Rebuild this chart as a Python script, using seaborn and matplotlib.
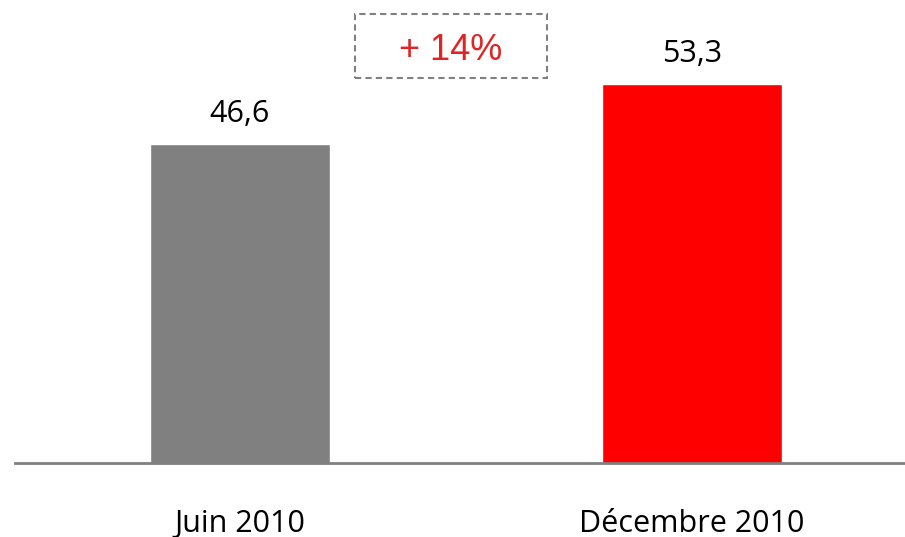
import matplotlib
matplotlib.use('Agg')
import matplotlib.pyplot as plt
import seaborn as sns
import pandas as pd
from matplotlib.patches import Rectangle

# données
periodes = ['Juin 2010', 'Décembre 2010']
valeurs = [46.6, 53.3]
couleurs = ['#808080', '#FF0000']
evolution = '+ 14%'

sns.set_theme(style='white')
plt.rcParams['font.family'] = ['Open Sans', 'DejaVu Sans']

df = pd.DataFrame({'periode': periodes, 'valeur': valeurs})

fig = plt.figure(figsize=(9.05, 5.37), dpi=100)
ax = fig.add_axes([15 / 905, 74 / 537, 890 / 905, 463 / 537])

sns.barplot(data=df, x='periode', y='valeur', hue='periode', palette=couleurs,
            width=0.4, legend=False, ax=ax, saturation=1)

ax.set_xlim(-225 / 452, 1 + 213 / 452)
ax.set_ylim(11, 11 + 463 / 8.96)

# étiquettes des valeurs (virgule décimale)
for i, v in enumerate(valeurs):
    ax.annotate(f'{v:.1f}'.replace('.', ','), (i, v), xytext=(0, 16),
                textcoords='offset points', ha='center', va='baseline',
                fontsize=22, color='black')

# encadré pointillé avec l'évolution
ax.add_patch(Rectangle((0.255, 11 + (463 - 78) / 8.96), 192 / 452, 64 / 8.96,
                       fill=False, ec='#808080', ls=(0, (3, 2)), lw=1.5,
                       clip_on=False))
ax.text(0.467, 11 + (463 - 51) / 8.96, evolution, ha='center', va='center',
        fontsize=26, color='#E02424', family=['Liberation Sans', 'DejaVu Sans'])

sns.despine(ax=ax, left=True)
ax.spines['bottom'].set_color('#808080')
ax.spines['bottom'].set_linewidth(2)
ax.set_yticks([])
ax.set_xlabel('')
ax.set_ylabel('')
ax.tick_params(axis='x', length=0, pad=33, labelsize=22, labelcolor='black')

fig.savefig('out.png', dpi=100)
